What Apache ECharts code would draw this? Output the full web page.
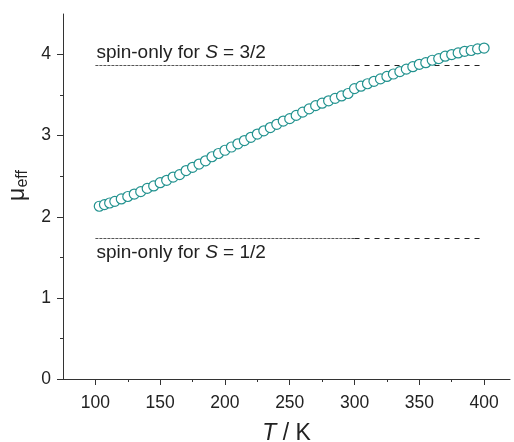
<!DOCTYPE html>
<html><head><meta charset="utf-8">
<script src="https://cdn.jsdelivr.net/npm/echarts@6/dist/echarts.min.js"></script>
<style>html,body{margin:0;padding:0;background:#fff}#c{width:514px;height:442px}</style>
</head><body><div id="c"></div>
<script>
const temperature = [103,107,111,115,120,125,130,135,140,145,150,155,160,165,170,175,180,185,190,195,200,205,210,215,220,225,230,235,240,245,250,255,260,265,270,275,280,285,290,295,300,305,310,315,320,325,330,335,340,345,350,355,360,365,370,375,380,385,390,395,400];
const muEff = [2.13,2.15,2.17,2.19,2.22,2.25,2.28,2.31,2.35,2.38,2.42,2.45,2.49,2.52,2.57,2.61,2.65,2.69,2.74,2.78,2.82,2.86,2.90,2.94,2.98,3.02,3.06,3.10,3.14,3.18,3.21,3.25,3.29,3.33,3.37,3.40,3.43,3.46,3.49,3.52,3.58,3.61,3.64,3.67,3.70,3.73,3.76,3.79,3.82,3.85,3.88,3.90,3.93,3.95,3.98,4.00,4.02,4.04,4.05,4.07,4.08];
const spinOnly = [3.87, 1.73];
const spinLabels = ['3/2', '1/2'];
const lineT = [100, 300, 400];
const xTicks = [100,150,200,250,300,350,400];
const xMinor = [125,175,225,275,325,375];
const yTicks = [0,1,2,3,4];
const yMinor = [0.5,1.5,2.5,3.5];

const FONT = 'Liberation Sans';
const TEAL = '#22928f';
const points = temperature.map((t,i)=>[t, muEff[i]]);

function refLine(v, lbl, pos, dist) {
  return {
    type: 'line', data: [], silent: true,
    markLine: {
      symbol: 'none', silent: true, animation: false,
      data: [
        [{coord:[lineT[0], v], lineStyle:{color:'#555', width:1, type:[3,1]},
          label:{show:true, position:pos, distance:[1,dist], formatter:'spin-only for {i|S} = ' + lbl,
            color:'#222', fontFamily:FONT, fontSize:19,
            rich:{i:{fontStyle:'italic', fontFamily:FONT, fontSize:19, color:'#222'}}}},
         {coord:[lineT[1], v]}],
        [{coord:[lineT[1], v], lineStyle:{color:'#222', width:1, type:[5,5]}, label:{show:false}},
         {coord:[lineT[2], v]}]
      ]
    }
  };
}

const chart = echarts.init(document.getElementById('c'), null, {renderer:'canvas'});
chart.setOption({
  animation: false,
  grid: {left: 63, right: 4, top: 14, bottom: 63, containLabel:false, outerBoundsMode:'none'},
  xAxis: [{
    type:'value', min:75, max:420,
    name:'{i|T} / K', nameLocation:'middle', nameGap:43,
    nameTextStyle:{fontFamily:FONT, fontSize:23, color:'#222', rich:{i:{fontStyle:'italic', fontFamily:FONT, fontSize:23, color:'#222'}}},
    axisLine:{lineStyle:{color:'#333', width:1}},
    axisTick:{customValues:xTicks, length:6, lineStyle:{color:'#333'}},
    axisLabel:{customValues:xTicks, color:'#222', fontFamily:FONT, fontSize:17.5, margin:15},
    splitLine:{show:false}
  },{
    type:'value', min:75, max:420, position:'bottom',
    axisLine:{show:false},
    axisTick:{customValues:xMinor, length:3, lineStyle:{color:'#333'}},
    axisLabel:{show:false}, splitLine:{show:false}
  }],
  yAxis: [{
    type:'value', min:0, max:4.5,
    name:'{m|μ}{s|eff}', nameLocation:'middle', nameGap:27, nameRotate:90,
    nameTextStyle:{fontFamily:FONT, color:'#222', padding:[0,0,0,22], rich:{m:{fontSize:23, fontFamily:FONT, color:'#222'}, s:{fontSize:16, fontFamily:FONT, color:'#222', verticalAlign:'bottom', padding:[10,0,0,0]}}},
    axisLine:{show:true, lineStyle:{color:'#333', width:1}},
    axisTick:{show:true, customValues:yTicks, length:6, lineStyle:{color:'#333'}},
    axisLabel:{customValues:yTicks, color:'#222', fontFamily:FONT, fontSize:17.5, margin:12},
    splitLine:{show:false}
  },{
    type:'value', min:0, max:4.5, position:'left',
    axisLine:{show:false},
    axisTick:{show:true, customValues:yMinor, length:3, lineStyle:{color:'#333'}},
    axisLabel:{show:false}, splitLine:{show:false}
  }],
  series: [
    refLine(spinOnly[0], spinLabels[0], 'insideStartTop', 3),
    refLine(spinOnly[1], spinLabels[1], 'insideStartBottom', 5),
    {
      type:'scatter', data: points, symbol:'circle', symbolSize:10,
      itemStyle:{color:'#fff', borderColor:TEAL, borderWidth:1.2, opacity:1},
      z: 5
    }
  ]
});
</script></body></html>
